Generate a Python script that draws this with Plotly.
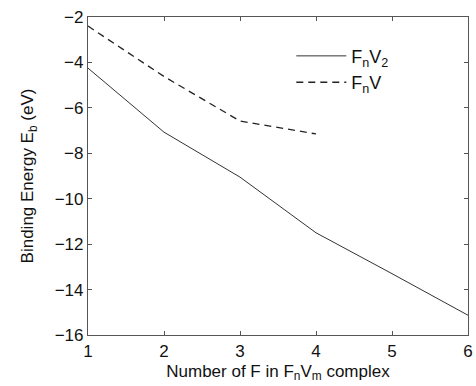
import plotly.graph_objects as go

# Number of F atoms in the complex
n_f = [1, 2, 3, 4, 5, 6]
n_f_single = [1, 2, 3, 4]

# Binding energies (eV)
eb_fnv2 = [-4.25, -7.07, -9.05, -11.5, -13.3, -15.13]
eb_fnv = [-2.40, -4.62, -6.58, -7.15]

LINE_COLOR = "#333333"
FONT = "Liberation Sans, Arial, sans-serif"

fig = go.Figure()
fig.add_trace(go.Scatter(
    x=n_f, y=eb_fnv2, mode="lines", name="F<sub>n</sub>V<sub>2</sub>",
    line=dict(color=LINE_COLOR, width=1),
))
fig.add_trace(go.Scatter(
    x=n_f_single, y=eb_fnv, mode="lines", name="F<sub>n</sub>V",
    line=dict(color="#222222", width=1.3, dash="7px,5px"),
))

axis_common = dict(
    showgrid=False, zeroline=False, showline=True, mirror="ticks",
    linecolor="#555555", linewidth=1.2, ticks="inside", ticklen=4,
    tickcolor="#555555", ticklabeloverflow="allow",
    tickfont=dict(family=FONT, size=17, color="#111111"),
)

fig.update_layout(
    width=476, height=386,
    margin=dict(l=88, r=3, t=17, b=51),
    paper_bgcolor="white", plot_bgcolor="white",
    font=dict(family=FONT, color="#111111"),
    xaxis=dict(
        range=[1, 6], tickvals=[1, 2, 3, 4, 5, 6],
        title=dict(text="Number of F in F<sub>n</sub>V<sub>m</sub> complex",
                   font=dict(size=17), standoff=5),
        **axis_common,
    ),
    yaxis=dict(
        range=[-16, -2], tickvals=[-16, -14, -12, -10, -8, -6, -4, -2],
        title=dict(text="Binding Energy E<sub>b</sub> (eV)",
                   font=dict(size=17), standoff=16),
        **axis_common,
    ),
    legend=dict(
        x=0.535, y=0.935, xanchor="left", yanchor="top",
        bgcolor="rgba(0,0,0,0)", font=dict(family=FONT, size=18),
        tracegroupgap=0, itemwidth=50,
    ),
)

fig.write_html("out.html")
